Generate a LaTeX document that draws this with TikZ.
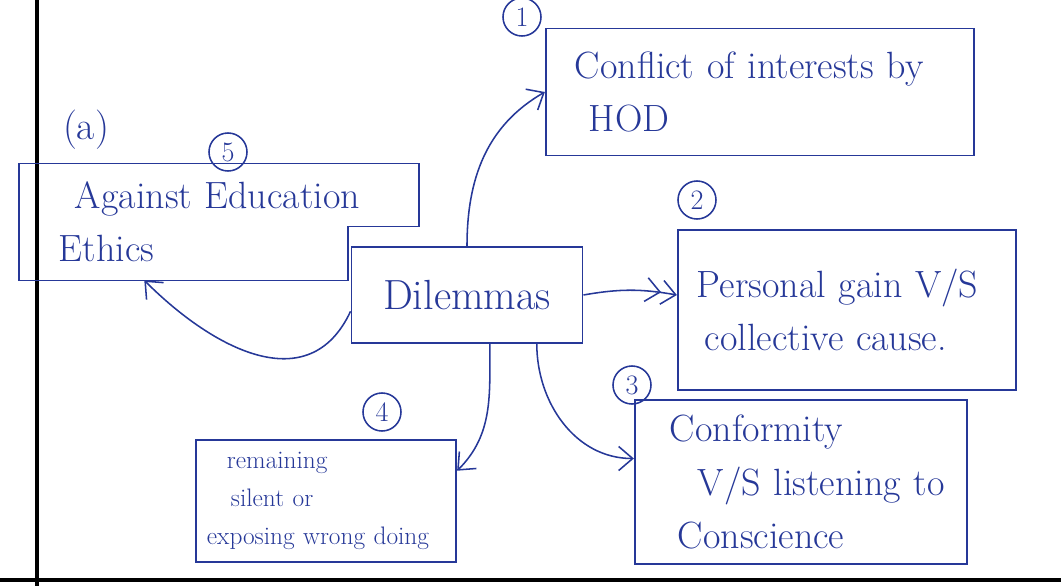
\documentclass[tikz,border=0pt]{standalone}
\usepackage{fontspec}
\usetikzlibrary{arrows.meta,positioning}
\definecolor{ink}{RGB}{38,56,152}

\tikzset{
  box/.style={draw=ink, line width=1.2pt, text=ink, align=left, inner sep=8pt},
  numcirc/.style={draw=ink, line width=1.1pt, circle, text=ink, inner sep=1pt, minimum size=0.95cm, font=\fontsize{20}{22}\selectfont},
  arr/.style={draw=ink, line width=1.1pt, -{Straight Barb[length=3.5mm,width=6mm]}},
  arrtwo/.style={draw=ink, line width=1.1pt, -{Straight Barb[length=3.5mm,width=6mm] Straight Barb[length=3.5mm,width=6mm]}}
}

\begin{document}
\begin{tikzpicture}[x=0.025cm, y=-0.025cm, font=\fontsize{27}{38}\selectfont]
    \useasboundingbox (0,0) rectangle (1061,586);

    % page margin lines
    \draw[line width=3pt] (37,0) -- (37,586);
    \draw[line width=3pt] (0,580) -- (1061,580);

    % central node
    \node[box, minimum width=5.78cm, minimum height=2.4cm, align=center, font=\fontsize{30}{34}\selectfont] (dil) at (467,295) {Dilemmas};

    % the dilemmas
    \node[box, text width=10.15cm, minimum height=3.18cm] (conflict) at (760,92) {\hspace*{0.45cm}Conflict of interests by\\ \hspace*{0.8cm}HOD};
    \node[box, text width=7.9cm, minimum height=4cm] (personal) at (847,310) {\hspace*{0.2cm}Personal gain V/S\\ \hspace*{0.4cm}collective cause.};
    \node[box, text width=7.75cm, minimum height=4.1cm] (conform) at (801,482) {\hspace*{0.6cm}Conformity\\ \hspace*{1.3cm}V/S listening to\\ \hspace*{0.8cm}Conscience};
    \node[box, text width=5.95cm, minimum height=3.05cm, font=\fontsize{18}{27}\selectfont] (remain) at (326,501) {\hspace*{0.5cm}remaining\\ \hspace*{0.6cm}silent or\\ \mbox{exposing wrong doing}};
    \node[box, draw=none, text width=9.4cm, minimum height=2.875cm] (against) at (219,222) {\hspace*{1.1cm}Against Education\\ \hspace*{0.7cm}Ethics};
    % stepped outline of the left box
    \draw[ink, line width=1.2pt] (against.north west) -- (against.north east) -- ++(0,63) -- ++(-71,0) |- (against.south west) -- cycle;

    % numbering
    \node[numcirc] (n1) at (522,17) {1};
    \node[numcirc] (n2) at (697,200) {2};
    \node[numcirc] (n3) at (632,385) {3};
    \node[numcirc] (n4) at (382,412) {4};
    \node[numcirc] (n5) at (228,152) {5};
    \node[text=ink, font=\fontsize{28}{30}\selectfont] (na) at (86,130) {(a)};

    % connectors
    \draw[arr] (dil.north) to[out=90, in=210] (conflict.west);
    \draw[arrtwo] (dil.east) to[bend left=10] (personal.west |- dil.east);
    \draw[arr] (dil.-35) to[out=-90, in=180] (conform.172);
    \draw[arr] (dil.-65) to[out=-90, in=45] (remain.13);
    \draw[arr] (dil.188) to[out=-115, in=-45, looseness=1.2] (against.218);
\end{tikzpicture}
\end{document}
